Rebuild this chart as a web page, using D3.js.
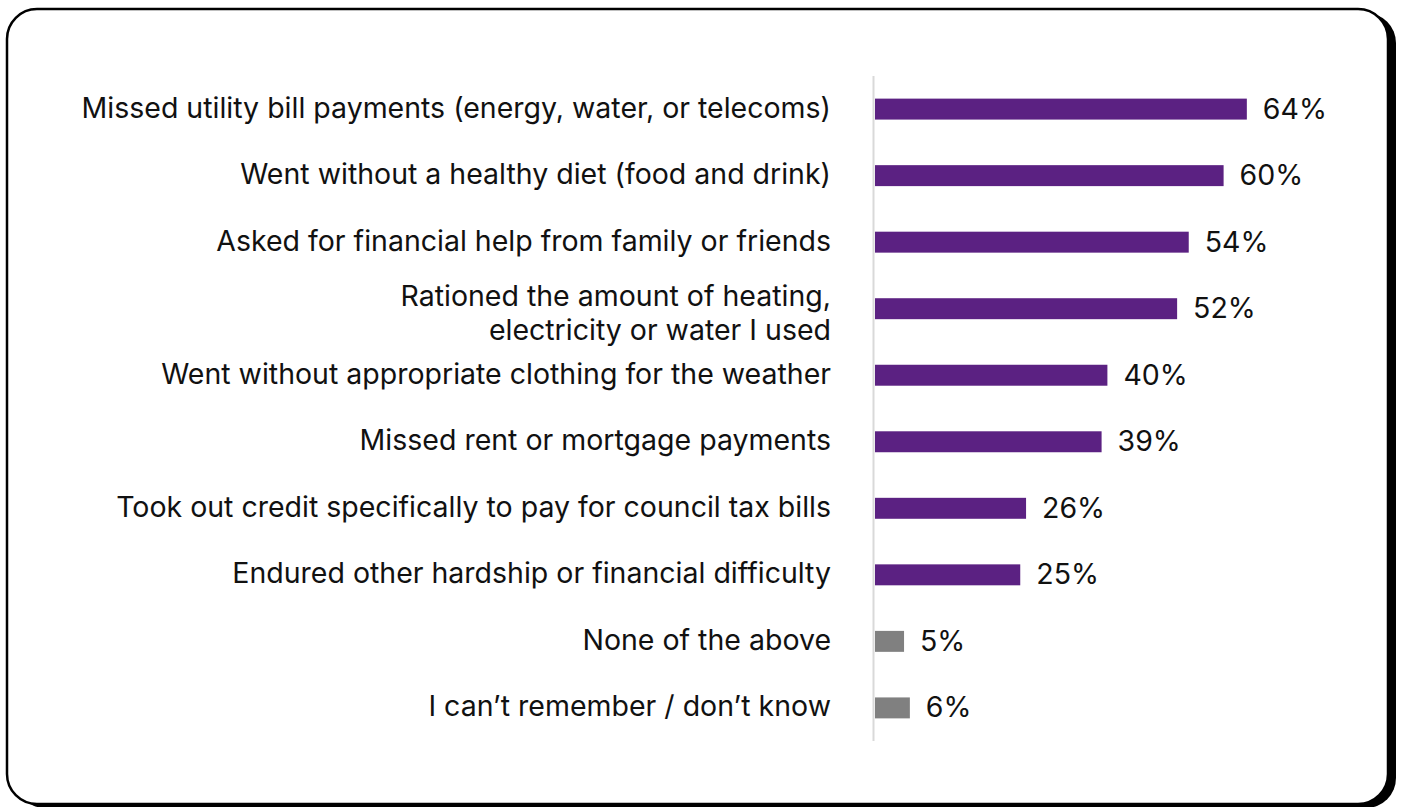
<!DOCTYPE html>
<html>
<head>
<meta charset="utf-8">
<script src="https://cdn.jsdelivr.net/npm/d3@7"></script>
<style>
  html, body { margin: 0; padding: 0; background: #ffffff; }
  svg { display: block; }
</style>
</head>
<body>
<svg id="chart" width="1403" height="807"></svg>
<script>
// Hardship experienced, share of respondents
const categories = [
  ["Missed utility bill payments (energy, water, or telecoms)"],
  ["Went without a healthy diet (food and drink)"],
  ["Asked for financial help from family or friends"],
  ["Rationed the amount of heating,", "electricity or water I used"],
  ["Went without appropriate clothing for the weather"],
  ["Missed rent or mortgage payments"],
  ["Took out credit specifically to pay for council tax bills"],
  ["Endured other hardship or financial difficulty"],
  ["None of the above"],
  ["I can\u2019t remember / don\u2019t know"]
];
const values = [64, 60, 54, 52, 40, 39, 26, 25, 5, 6];
const isOther = [false, false, false, false, false, false, false, false, true, true];

const W = 1403, H = 807;
const svg = d3.select("#chart");

// Card with offset dark shadow
const card = { x: 7, y: 9, w: 1381, h: 795, r: 30 };
svg.append("rect")
  .attr("x", card.x + 8).attr("y", card.y + 4)
  .attr("width", card.w).attr("height", card.h)
  .attr("rx", card.r).attr("ry", card.r)
  .attr("fill", "#000");
svg.append("rect")
  .attr("x", card.x).attr("y", card.y)
  .attr("width", card.w).attr("height", card.h)
  .attr("rx", card.r).attr("ry", card.r)
  .attr("fill", "#fff").attr("stroke", "#000").attr("stroke-width", 2.5);

const x = d3.scaleLinear().domain([0, 100]).range([875, 875 + 581]);
const idx = d3.range(values.length);
const y = d3.scaleBand().domain(idx).range([76, 741]).paddingInner(0.685).paddingOuter(0.34);

// Baseline
svg.append("line")
  .attr("x1", 873.5).attr("x2", 873.5)
  .attr("y1", 76).attr("y2", 741)
  .attr("stroke", "#d9d9d9").attr("stroke-width", 2);

const font = "Inter, 'Noto Sans', sans-serif";
const fontSize = 28.5;
const textColor = "#111111";

// Bars
svg.append("g").selectAll("rect")
  .data(idx)
  .join("rect")
  .attr("x", x(0))
  .attr("y", i => y(i))
  .attr("width", i => x(values[i]) - x(0))
  .attr("height", y.bandwidth())
  .attr("fill", i => isOther[i] ? "#808080" : "#5b2182");

// Value labels
svg.append("g").selectAll("text")
  .data(idx)
  .join("text")
  .attr("x", i => x(values[i]) + 16)
  .attr("y", i => y(i) + y.bandwidth() / 2)
  .attr("dy", "0.33em")
  .attr("font-family", font)
  .attr("font-size", fontSize)
  .attr("fill", textColor)
  .text(i => values[i] + "%");

// Category labels (one text element per line)
const lh = 34;
const labelLines = [];
idx.forEach(i => {
  const lines = categories[i];
  const off = lines.length > 1 ? -12 : -1;
  lines.forEach((ln, k) => labelLines.push({ i, k, text: ln, off: off + k * lh }));
});

svg.append("g").selectAll("text")
  .data(labelLines)
  .join("text")
  .attr("text-anchor", "end")
  .attr("font-family", font)
  .attr("font-size", fontSize)
  .attr("fill", textColor)
  .attr("x", 831)
  .attr("y", d => y(d.i) + y.bandwidth() / 2 + d.off)
  .attr("dy", "0.33em")
  .text(d => d.text);
</script>
</body>
</html>
